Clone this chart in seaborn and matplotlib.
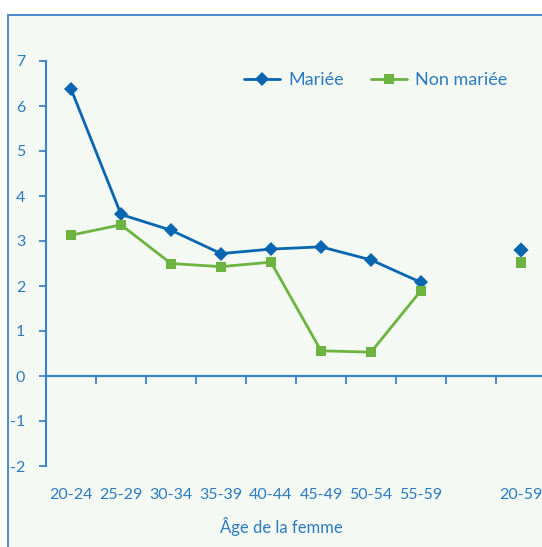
import matplotlib
matplotlib.use("Agg")
import matplotlib.pyplot as plt
from matplotlib.patches import Rectangle
import numpy as np
import pandas as pd
import seaborn as sns

# Age groups; the slot before the overall group is left empty
categories = ["20-24", "25-29", "30-34", "35-39", "40-44", "45-49", "50-54", "55-59", "", "20-59"]
mariee = [6.38, 3.59, 3.24, 2.72, 2.82, 2.87, 2.58, 2.08]
non_mariee = [3.13, 3.36, 2.50, 2.43, 2.53, 0.56, 0.53, 1.90]
mariee_total = 2.80
non_mariee_total = 2.53
series_names = ["Mariée", "Non mariée"]
y_ticks = [-2, -1, 0, 1, 2, 3, 4, 5, 6, 7]
x_title = "Âge de la femme"

BLUE = "#0865b0"
GREEN = "#6db33f"
AXIS = "#3a84c6"
TEXT = "#2c7bc0"
BG = "#f4f9f4"

sns.set_theme(style="white")
plt.rcParams["font.family"] = ["Lato", "DejaVu Sans"]

W, H = 542, 547
fig = plt.figure(figsize=(W / 100, H / 100), dpi=100)
fig.patch.set_facecolor("white")

# framed panel running off the right and bottom edges
fig.patches.append(Rectangle((8 / W, -0.1), 1.2, (547 - 15) / H + 0.1,
                             transform=fig.transFigure, facecolor=BG,
                             edgecolor=AXIS, linewidth=1.3, zorder=-5))

left, right = 46, 546
top, bottom = 61, 466
ax = fig.add_axes([left / W, (H - bottom) / H, (right - left) / W, (bottom - top) / H])
ax.set_facecolor("none")

n_main = len(mariee)
pos = np.arange(len(categories))
df = pd.DataFrame({
    "x": np.concatenate([pos[:n_main], pos[:n_main]]),
    "y": mariee + non_mariee,
    "série": [series_names[0]] * n_main + [series_names[1]] * n_main,
})
tot = pd.DataFrame({
    "x": [pos[-1], pos[-1]],
    "y": [mariee_total, non_mariee_total],
    "série": series_names,
})
palette = {series_names[0]: BLUE, series_names[1]: GREEN}
markers = {series_names[0]: "D", series_names[1]: "s"}

sns.lineplot(data=df, x="x", y="y", hue="série", style="série", palette=palette,
             markers=markers, dashes=False, linewidth=2.0, markersize=7.5,
             markeredgewidth=0, ax=ax, legend=True, zorder=3)
sns.scatterplot(data=tot, x="x", y="y", hue="série", style="série", palette=palette,
                markers=markers, s=60, linewidth=0, ax=ax, legend=False, zorder=3)

ax.set_xlim(-0.5, len(categories) - 0.5)
ax.set_ylim(-2, 7)

for s in ["top", "right", "bottom"]:
    ax.spines[s].set_visible(False)
ax.spines["left"].set_color(AXIS)
ax.spines["left"].set_linewidth(1.5)

ax.set_yticks(y_ticks)
ax.set_yticklabels([str(v) for v in y_ticks])
ax.tick_params(axis="y", direction="out", length=5, width=1.3, color=AXIS,
               labelcolor=TEXT, labelsize=11.5, pad=10, left=True)

# category labels sit below the panel
ax.set_xticks(pos)
ax.set_xticklabels(categories)
ax.tick_params(axis="x", length=0, labelcolor=TEXT, labelsize=11.5, pad=16)

# zero line carrying the category boundary ticks
zero = ax.secondary_xaxis(2 / 9)
zero.set_xticks(np.arange(-0.5, len(categories), 1.0))
zero.set_xticklabels([])
zero.spines["bottom"].set_color(AXIS)
zero.spines["bottom"].set_linewidth(1.6)
zero.tick_params(axis="x", direction="out", length=6, width=1.3, color=AXIS)

ax.set_xlabel(x_title, color=TEXT, fontsize=12)
ax.xaxis.set_label_coords((281 - left) / (right - left), -(526 - bottom) / (bottom - top))
ax.xaxis.label.set_va("center")
ax.set_ylabel("")

leg = ax.legend(loc="center left", bbox_to_anchor=(244 / W, 1 - 80 / H),
                bbox_transform=fig.transFigure, ncol=2, frameon=False,
                fontsize=13, handlelength=2.0, handletextpad=0.45,
                columnspacing=1.5, borderpad=0, borderaxespad=0)
for t in leg.get_texts():
    t.set_color(TEXT)
leg.set_title(None)

fig.savefig("out.png", dpi=100, facecolor="white")
